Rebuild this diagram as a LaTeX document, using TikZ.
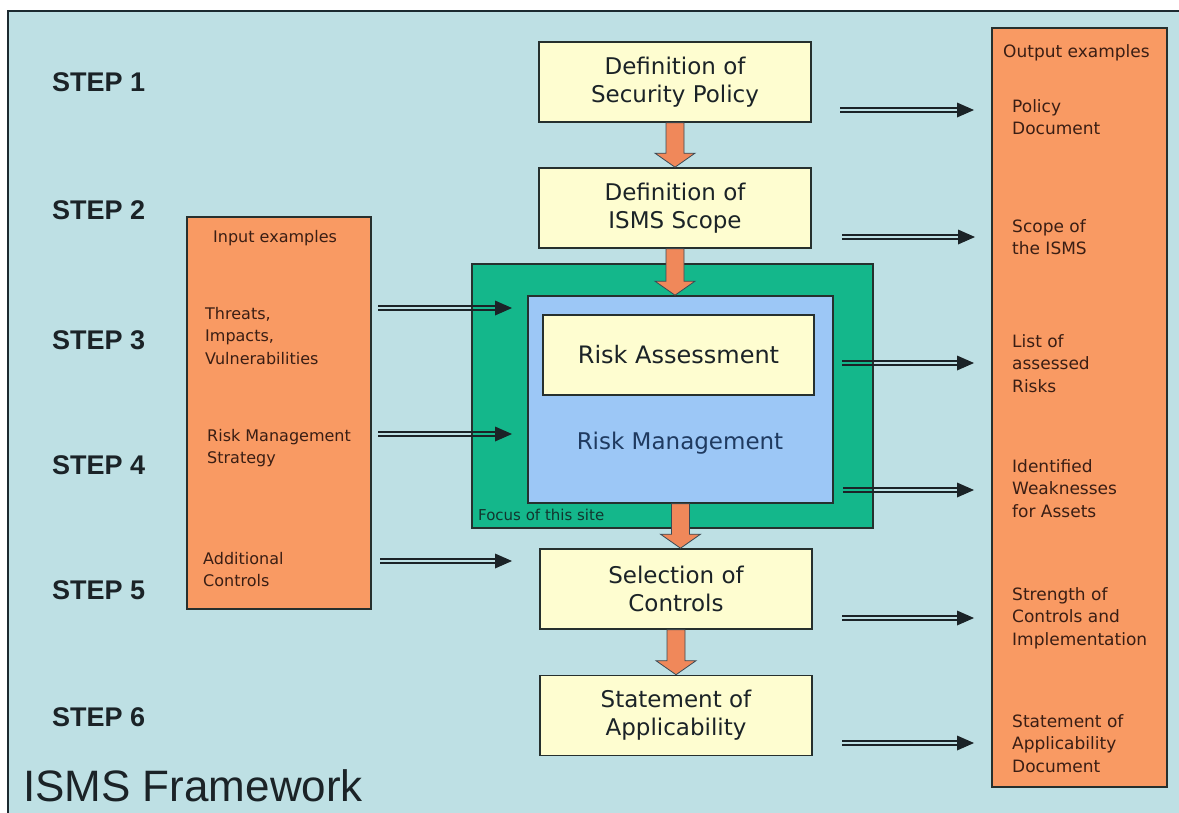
\documentclass[tikz,border=0pt]{standalone}
\usepackage{fontspec}
\setmainfont{DejaVu Sans}
\newfontfamily\lsans{Liberation Sans}
\usetikzlibrary{calc}
\definecolor{bgc}{HTML}{BEE0E4}
\definecolor{framec}{HTML}{1C2A30}
\definecolor{yellowc}{HTML}{FEFDD0}
\definecolor{orangec}{HTML}{F99A63}
\definecolor{greenc}{HTML}{14B78B}
\definecolor{bluec}{HTML}{9CC7F6}
\definecolor{borderc}{HTML}{26302E}
\definecolor{arrowc}{HTML}{F0885A}
\definecolor{arrowline}{HTML}{3A4A55}
\definecolor{darkc}{HTML}{1B2327}
\definecolor{brownc}{HTML}{3A1E14}
\definecolor{rmc}{HTML}{1F3A60}
\definecolor{focusc}{HTML}{12352E}
\newcommand{\blockarr}[2]{%
  \draw[blockarrow] let \p1=(#1), \p2=(#2) in
    (\x1-9pt,\y1) -- (\x1-9pt,\y2+14pt) -- (\x1-20pt,\y2+14pt) -- (\x1,\y2)
    -- (\x1+20pt,\y2+14pt) -- (\x1+9pt,\y2+14pt) -- (\x1+9pt,\y1) -- cycle;}
\newcommand{\darrow}[2]{%
  \draw[dl] ([yshift=1.7pt]#1) -- ([yshift=1.7pt,xshift=-10pt]#2);
  \draw[dl] ([yshift=-1.7pt]#1) -- ([yshift=-1.7pt,xshift=-10pt]#2);
  \fill[darkc] (#2) -- ++(-17,-7.5) -- ++(0,15) -- cycle;}
\begin{document}
\begin{tikzpicture}[x=1pt,y=-1pt,
  steplbl/.style={anchor=west,inner sep=0pt,text=darkc,font=\lsans\bfseries\fontsize{27}{30}\selectfont},
  ybox/.style={draw=borderc,line width=1.6pt,fill=yellowc,minimum width=272pt,minimum height=80pt,
    inner sep=0pt,align=center,text=darkc,font=\fontsize{23}{28}\selectfont},
  obox/.style={draw=borderc,line width=1.6pt,fill=orangec,inner sep=0pt},
  itxt/.style={anchor=north west,align=left,inner sep=0pt,text=brownc,font=\fontsize{16}{22.5}\selectfont},
  otxt/.style={anchor=north west,align=left,inner sep=0pt,text=brownc,font=\fontsize{17}{22.5}\selectfont},
  blockarrow/.style={fill=arrowc,draw=arrowline,line width=0.8pt,line join=miter},
  dl/.style={draw=darkc,line width=1.8pt}]
\useasboundingbox (0,0) rectangle (1179,812);
\fill[white] (0,0) rectangle (1179,812);
\draw[line width=1.5pt,draw=framec,fill=bgc] (8,11) rectangle (1190,830);

% step labels
\node[steplbl] (s1) at (52,82) {STEP 1};
\node[steplbl] (s2) at (52,210) {STEP 2};
\node[steplbl] (s3) at (52,340) {STEP 3};
\node[steplbl] (s4) at (52,465) {STEP 4};
\node[steplbl] (s5) at (52,590) {STEP 5};
\node[steplbl] (s6) at (52,717) {STEP 6};
\node[anchor=west,inner sep=0pt,text=darkc,font=\lsans\fontsize{44}{48}\selectfont] (title) at (23,786) {ISMS Framework};

% input / output boxes
\node[obox,minimum width=184pt,minimum height=392pt] (inbox) at (279,413) {};
\node[obox,minimum width=175pt,minimum height=759pt] (outbox) at (1079.5,407.5) {};

\node[itxt] (in0) at (213,230) {Input examples};
\node[itxt] (in1) at (205,307) {Threats,\\Impacts,\\Vulnerabilities};
\node[itxt] (in2) at (207,429) {Risk Management\\Strategy};
\node[itxt] (in3) at (203,552) {Additional\\Controls};

\node[otxt] (out0) at (1003,44) {Output examples};
\node[otxt] (out1) at (1012,99) {Policy\\Document};
\node[otxt] (out2) at (1012,219) {Scope of\\the ISMS};
\node[otxt] (out3) at (1012,334) {List of\\assessed\\Risks};
\node[otxt] (out4) at (1012,459) {Identified\\Weaknesses\\for Assets};
\node[otxt] (out5) at (1012,587) {Strength of\\Controls and\\Implementation};
\node[otxt] (out6) at (1012,714) {Statement of\\Applicability\\Document};

% central boxes
\node[ybox] (pol) at (675,82) {Definition of\\Security Policy};
\node[ybox] (scope) at (675,208) {Definition of\\ISMS Scope};
\node[draw=borderc,line width=1.6pt,fill=greenc,minimum width=401pt,minimum height=264pt,inner sep=0pt] (focus) at (672.5,396) {};
\node[draw=borderc,line width=1.6pt,fill=bluec,minimum width=305pt,minimum height=207pt,inner sep=0pt] (rm) at (680.5,399.5) {};
\node[ybox,minimum width=271pt,minimum height=80pt,font=\fontsize{24}{28}\selectfont] (ra) at (678.5,355) {Risk Assessment};
\node[inner sep=0pt,text=rmc,font=\fontsize{23}{28}\selectfont] (rmlabel) at (680,443) {Risk Management};
\node[anchor=west,inner sep=0pt,text=focusc,font=\fontsize{15}{18}\selectfont] (focuslabel) at (478,515) {Focus of this site};
\node[ybox] (sel) at (676,589) {Selection of\\Controls};
\node[ybox] (soa) at (676,715.5) {Statement of\\Applicability};

% block arrows
\blockarr{pol.south}{scope.north}
\blockarr{scope.south}{rm.north}
\blockarr{rm.south}{sel.north}
\blockarr{sel.south}{soa.north}

% input arrows
\coordinate (i1a) at (378,308); \coordinate (i1b) at (512,308);
\coordinate (i2a) at (378,434); \coordinate (i2b) at (512,434);
\coordinate (i3a) at (380,561); \coordinate (i3b) at (512,561);
\darrow{i1a}{i1b}
\darrow{i2a}{i2b}
\darrow{i3a}{i3b}

% output arrows
\coordinate (o1a) at (840,110); \coordinate (o1b) at (974,110);
\coordinate (o2a) at (842,237); \coordinate (o2b) at (975,237);
\coordinate (o3a) at (842,363); \coordinate (o3b) at (974,363);
\coordinate (o4a) at (843,490); \coordinate (o4b) at (974,490);
\coordinate (o5a) at (842,618); \coordinate (o5b) at (974,618);
\coordinate (o6a) at (842,743); \coordinate (o6b) at (974,743);
\darrow{o1a}{o1b}
\darrow{o2a}{o2b}
\darrow{o3a}{o3b}
\darrow{o4a}{o4b}
\darrow{o5a}{o5b}
\darrow{o6a}{o6b}
\end{tikzpicture}
\end{document}
